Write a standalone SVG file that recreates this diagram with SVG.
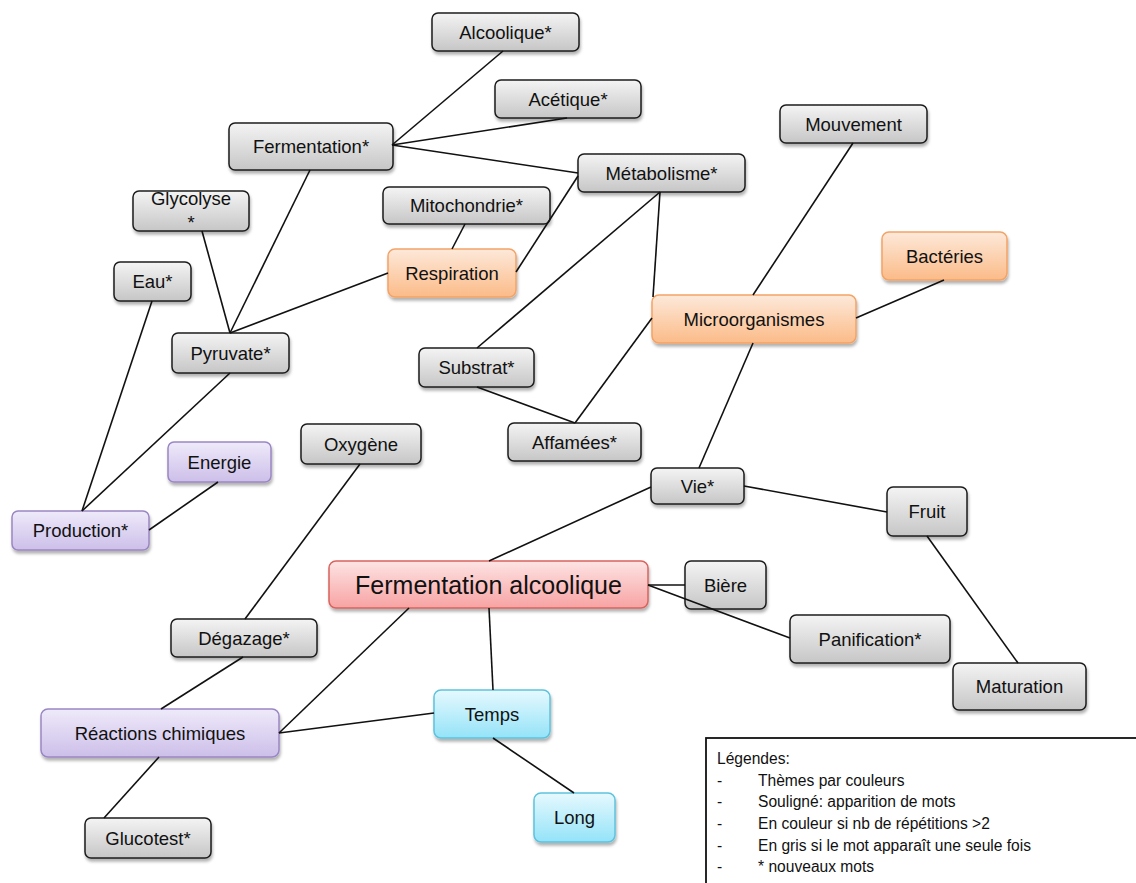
<svg xmlns="http://www.w3.org/2000/svg" width="1136" height="883" viewBox="0 0 1136 883">
<defs>
<linearGradient id="gGray" x1="0" y1="0" x2="0" y2="1"><stop offset="0" stop-color="#f4f4f4"/><stop offset="1" stop-color="#c6c6c6"/></linearGradient>
<linearGradient id="gOrange" x1="0" y1="0" x2="0" y2="1"><stop offset="0" stop-color="#fde9da"/><stop offset="1" stop-color="#fbbb88"/></linearGradient>
<linearGradient id="gPurple" x1="0" y1="0" x2="0" y2="1"><stop offset="0" stop-color="#efeafa"/><stop offset="1" stop-color="#ccbfe9"/></linearGradient>
<linearGradient id="gRed" x1="0" y1="0" x2="0" y2="1"><stop offset="0" stop-color="#fde4e4"/><stop offset="1" stop-color="#f8a3a3"/></linearGradient>
<linearGradient id="gCyan" x1="0" y1="0" x2="0" y2="1"><stop offset="0" stop-color="#e6f9fe"/><stop offset="1" stop-color="#94e3f8"/></linearGradient>
<filter id="sh" x="-10%" y="-20%" width="120%" height="150%"><feDropShadow dx="1" dy="3" stdDeviation="1.8" flood-color="#000" flood-opacity="0.3"/></filter>
</defs>
<style>
.node rect{filter:url(#sh);stroke-width:1.5}
.gray rect{fill:url(#gGray);stroke:#1c1c1c}
.orange rect{fill:url(#gOrange);stroke:#f3a366}
.purple rect{fill:url(#gPurple);stroke:#9a86c2}
.red rect{fill:url(#gRed);stroke:#d8635e}
.cyan rect{fill:url(#gCyan);stroke:#5ec2dd}
.node text{font-family:"Liberation Sans",Arial,sans-serif;font-size:18.5px;fill:#111;text-anchor:middle}
#edges line{stroke:#111;stroke-width:1.6}
.legend text{font-family:"Liberation Sans",Arial,sans-serif;font-size:15.6px;fill:#111}
</style>
<rect width="1136" height="883" fill="#fff"/>
<g id="nodes">
<g id="n-alcoolique" class="node gray"><rect x="432" y="13" width="147" height="38" rx="6"/><text x="505.5" y="38.5">Alcoolique*</text></g>
<g id="n-acetique" class="node gray"><rect x="495" y="80" width="146" height="38" rx="6"/><text x="568" y="105.5">Acétique*</text></g>
<g id="n-fermentation" class="node gray"><rect x="229" y="123" width="164" height="47" rx="6"/><text x="311" y="153">Fermentation*</text></g>
<g id="n-metabolisme" class="node gray"><rect x="578" y="154" width="167" height="38" rx="6"/><text x="661.5" y="179.5">Métabolisme*</text></g>
<g id="n-mitochondrie" class="node gray"><rect x="383" y="187" width="167" height="37" rx="6"/><text x="466.5" y="212">Mitochondrie*</text></g>
<g id="n-glycolyse" class="node gray"><rect x="133" y="191" width="116" height="40" rx="6"/><text x="191" y="205">Glycolyse</text><text x="191" y="229">*</text></g>
<g id="n-respiration" class="node orange"><rect x="388" y="249" width="128" height="48" rx="7"/><text x="452" y="279.5">Respiration</text></g>
<g id="n-eau" class="node gray"><rect x="114" y="262" width="77" height="39" rx="6"/><text x="152.5" y="288">Eau*</text></g>
<g id="n-pyruvate" class="node gray"><rect x="172" y="333" width="117" height="40" rx="6"/><text x="230.5" y="359.5">Pyruvate*</text></g>
<g id="n-mouvement" class="node gray"><rect x="780" y="105" width="147" height="38" rx="6"/><text x="853.5" y="130.5">Mouvement</text></g>
<g id="n-bacteries" class="node orange"><rect x="882" y="232" width="125" height="48" rx="7"/><text x="944.5" y="262.5">Bactéries</text></g>
<g id="n-microorganismes" class="node orange"><rect x="652" y="295" width="204" height="48" rx="7"/><text x="754" y="325.5">Microorganismes</text></g>
<g id="n-substrat" class="node gray"><rect x="419" y="348" width="115" height="39" rx="6"/><text x="476.5" y="374">Substrat*</text></g>
<g id="n-affamees" class="node gray"><rect x="508" y="423" width="133" height="38" rx="6"/><text x="574.5" y="448.5">Affamées*</text></g>
<g id="n-oxygene" class="node gray"><rect x="301" y="424" width="120" height="40" rx="6"/><text x="361" y="450.5">Oxygène</text></g>
<g id="n-energie" class="node purple"><rect x="168" y="442" width="103" height="40" rx="6"/><text x="219.5" y="468.5">Energie</text></g>
<g id="n-production" class="node purple"><rect x="12" y="511" width="137" height="39" rx="6"/><text x="80.5" y="537">Production*</text></g>
<g id="n-vie" class="node gray"><rect x="651" y="468" width="93" height="36" rx="6"/><text x="697.5" y="492.5">Vie*</text></g>
<g id="n-fruit" class="node gray"><rect x="887" y="487" width="80" height="49" rx="6"/><text x="927" y="518">Fruit</text></g>
<g id="n-fermentation-alcoolique" class="node red"><rect x="329" y="561" width="319" height="47" rx="7"/><text x="488.5" y="593.5" style="font-size:25px">Fermentation alcoolique</text></g>
<g id="n-biere" class="node gray"><rect x="685" y="561" width="81" height="48" rx="6"/><text x="725.5" y="591.5">Bière</text></g>
<g id="n-panification" class="node gray"><rect x="790" y="615" width="160" height="48" rx="6"/><text x="870" y="645.5">Panification*</text></g>
<g id="n-maturation" class="node gray"><rect x="953" y="663" width="133" height="47" rx="6"/><text x="1019.5" y="693">Maturation</text></g>
<g id="n-degazage" class="node gray"><rect x="171" y="619" width="146" height="38" rx="6"/><text x="244" y="644.5">Dégazage*</text></g>
<g id="n-reactions" class="node purple"><rect x="41" y="709" width="238" height="48" rx="7"/><text x="160" y="739.5">Réactions chimiques</text></g>
<g id="n-temps" class="node cyan"><rect x="434" y="690" width="116" height="48" rx="7"/><text x="492" y="720.5">Temps</text></g>
<g id="n-long" class="node cyan"><rect x="534" y="793" width="81" height="49" rx="7"/><text x="574.5" y="824">Long</text></g>
<g id="n-glucotest" class="node gray"><rect x="85" y="818" width="126" height="40" rx="6"/><text x="148" y="844.5">Glucotest*</text></g>
</g>
<g id="edges">
<line x1="392" y1="145" x2="503" y2="51"/>
<line x1="392" y1="145" x2="567" y2="118"/>
<line x1="392" y1="145" x2="578" y2="173"/>
<line x1="310" y1="170" x2="230" y2="333"/>
<line x1="202" y1="231" x2="230" y2="333"/>
<line x1="388" y1="273" x2="230" y2="333"/>
<line x1="465" y1="224" x2="452" y2="249"/>
<line x1="516" y1="272" x2="578" y2="176"/>
<line x1="660" y1="192" x2="477" y2="348"/>
<line x1="660" y1="192" x2="653" y2="297"/>
<line x1="652" y1="318" x2="575" y2="423"/>
<line x1="477" y1="387" x2="575" y2="423"/>
<line x1="853" y1="143" x2="753" y2="295"/>
<line x1="944" y1="280" x2="856" y2="318"/>
<line x1="753" y1="343" x2="699" y2="468"/>
<line x1="651" y1="487" x2="489" y2="561"/>
<line x1="744" y1="486" x2="887" y2="512"/>
<line x1="927" y1="536" x2="1018" y2="663"/>
<line x1="648" y1="585" x2="685" y2="585"/>
<line x1="648" y1="585" x2="790" y2="638"/>
<line x1="489" y1="608" x2="493" y2="690"/>
<line x1="409" y1="608" x2="279" y2="733"/>
<line x1="434" y1="713" x2="279" y2="733"/>
<line x1="493" y1="738" x2="574" y2="793"/>
<line x1="360" y1="464" x2="245" y2="619"/>
<line x1="243" y1="657" x2="161" y2="709"/>
<line x1="159" y1="757" x2="104" y2="818"/>
<line x1="230" y1="373" x2="82" y2="511"/>
<line x1="152" y1="301" x2="82" y2="511"/>
<line x1="218" y1="482" x2="149" y2="530"/>
</g>
<g id="legend" class="legend">
<rect x="706" y="738" width="440" height="160" fill="#fff" stroke="#111" stroke-width="1.8"/>
<text x="717" y="764">Légendes:</text>
<text x="717" y="786">-</text><text x="758" y="786">Thèmes par couleurs</text>
<text x="717" y="807">-</text><text x="758" y="807">Souligné: apparition de mots</text>
<text x="717" y="829">-</text><text x="758" y="829">En couleur si nb de répétitions &gt;2</text>
<text x="717" y="851">-</text><text x="758" y="851">En gris si le mot apparaît une seule fois</text>
<text x="717" y="872">-</text><text x="758" y="872">* nouveaux mots</text>
</g>
</svg>
